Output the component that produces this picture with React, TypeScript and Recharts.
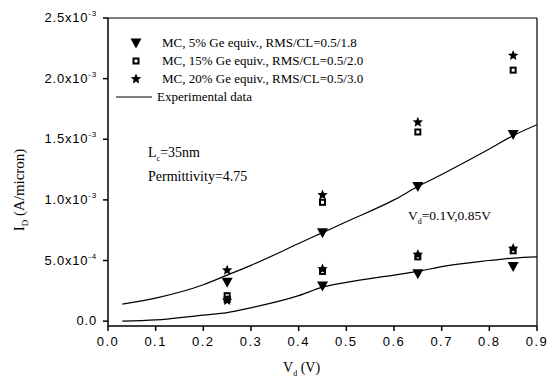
import React from 'react';
import { ComposedChart, Line, Scatter, XAxis, YAxis, Legend } from 'recharts';

// values of I_D in units of 1e-3 A/micron
const mcX = [0.25, 0.45, 0.65, 0.85];
const mc5High = [0.32, 0.73, 1.11, 1.54];
const mc15High = [0.21, 0.98, 1.56, 2.07];
const mc20High = [0.42, 1.04, 1.64, 2.19];
const mcXLow = [0.45, 0.65, 0.85];
const mc5Low = [0.29, 0.39, 0.45];
const mc15Low = [0.18, 0.41, 0.53, 0.58];
const mc20Low = [0.17, 0.43, 0.55, 0.6];

const expX = [0.03, 0.1, 0.2, 0.25, 0.3, 0.4, 0.45, 0.5, 0.6, 0.65, 0.7, 0.8, 0.85, 0.9];
const expHigh = [0.14, 0.19, 0.3, 0.38, 0.46, 0.64, 0.73, 0.82, 1.0, 1.11, 1.21, 1.42, 1.53, 1.62];
const expLow = [0.0, 0.01, 0.05, 0.07, 0.11, 0.21, 0.28, 0.32, 0.38, 0.41, 0.45, 0.5, 0.52, 0.53];

const xTicks = [0, 0.1, 0.2, 0.3, 0.4, 0.5, 0.6, 0.7, 0.8, 0.9];
const yTicks = [0, 0.5, 1.0, 1.5, 2.0, 2.5];
const yTickLabels: [string, string][] = [
  ['0.0', ''],
  ['5.0x10', '-4'],
  ['1.0x10', '-3'],
  ['1.5x10', '-3'],
  ['2.0x10', '-3'],
  ['2.5x10', '-3'],
];

const legendItems = [
  { name: 'MC, 5% Ge equiv., RMS/CL=0.5/1.8', mark: 'tri' },
  { name: 'MC, 15% Ge equiv., RMS/CL=0.5/2.0', mark: 'sq' },
  { name: 'MC, 20% Ge equiv., RMS/CL=0.5/3.0', mark: 'star' },
  { name: 'Experimental data', mark: 'line' },
];

const pts = (xs: number[], ys: number[]) => xs.map((x, i) => ({ x, y: ys[i] }));

const SANS = '"Liberation Sans", Arial, sans-serif';
const SERIF = '"Liberation Serif", "Times New Roman", serif';

const Tri = ({ cx, cy }: any) => (
  <path d={`M${cx - 5.5},${cy - 4.5} L${cx + 5.5},${cy - 4.5} L${cx},${cy + 5.5} Z`} fill="#000" />
);
const Sq = ({ cx, cy }: any) => (
  <g>
    <rect x={cx - 3.5} y={cy - 3.5} width={7} height={7} fill="#000" />
    <rect x={cx - 1.5} y={cy - 1.5} width={3} height={3} fill="#fff" />
  </g>
);
const starPath = (cx: number, cy: number, r: number) => {
  let d = '';
  for (let i = 0; i < 10; i++) {
    const rr = i % 2 === 0 ? r : r * 0.45;
    const a = -Math.PI / 2 + (i * Math.PI) / 5;
    d += (i === 0 ? 'M' : 'L') + (cx + rr * Math.cos(a)).toFixed(2) + ',' + (cy + rr * Math.sin(a)).toFixed(2);
  }
  return d + 'Z';
};
const Star = ({ cx, cy }: any) => <path d={starPath(cx, cy, 5.5)} fill="#000" />;

const YTick = ({ x, y, payload }: any) => {
  const idx = yTicks.indexOf(payload.value);
  const [base, sup] = yTickLabels[idx] || ['', ''];
  return (
    <text x={x - 4} y={y + 4} textAnchor="end" fontFamily={SANS} fontSize={13} fill="#000" letterSpacing={0.8}>
      {base}
      {sup && <tspan dy={-6} fontSize={8}>{sup}</tspan>}
    </text>
  );
};

const XTick = ({ x, y, payload }: any) => (
  <text x={x} y={y + 13} textAnchor="middle" fontFamily={SANS} fontSize={13} fill="#000" letterSpacing={1.5}>
    {payload.value.toFixed(1)}
  </text>
);

const LegendBox = () => (
  <div style={{ fontFamily: SERIF, fontSize: 13, lineHeight: '18px', color: '#000' }}>
    {legendItems.map((it) => (
      <div key={it.name} style={{ display: 'flex', alignItems: 'center' }}>
        <svg width={44} height={14}>
          {it.mark === 'tri' && <Tri cx={24} cy={7} />}
          {it.mark === 'sq' && <Sq cx={24} cy={7} />}
          {it.mark === 'star' && <Star cx={24} cy={7} />}
          {it.mark === 'line' && <line x1={4} x2={40} y1={7} y2={7} stroke="#000" strokeWidth={1.2} />}
        </svg>
        <span style={{ marginLeft: it.mark === 'line' ? 1 : 6 }}>{it.name}</span>
      </div>
    ))}
  </div>
);

export default function App() {
  return (
    <div style={{ position: 'absolute', left: 0, top: 0, width: 549, height: 385, background: '#fff' }}>
      <ComposedChart width={549} height={385} margin={{ top: 18, right: 12, bottom: 0, left: 0 }}>
        <XAxis
          type="number"
          dataKey="x"
          domain={[0, 0.9]}
          ticks={xTicks}
          tick={<XTick />}
          height={59}
          stroke="#000"
          strokeWidth={1.5}
          tickSize={5}
          allowDataOverflow
        />
        <XAxis xAxisId="t" orientation="top" type="number" dataKey="x" domain={[0, 0.9]} ticks={xTicks} mirror tick={() => <g />} stroke="#000" strokeWidth={1.2} tickSize={4} />
        <YAxis
          type="number"
          domain={[-0.04, 2.5]}
          ticks={yTicks}
          tick={<YTick />}
          width={108}
          stroke="#000"
          strokeWidth={1.5}
          tickSize={5}
          allowDataOverflow
        />
        <YAxis yAxisId="r" orientation="right" type="number" domain={[-0.04, 2.5]} ticks={yTicks} mirror tick={() => <g />} stroke="#000" strokeWidth={1.2} tickSize={4} />
        <Legend
          verticalAlign="middle"
          align="center"
          layout="horizontal"
          wrapperStyle={{ top: 34, left: 112, width: 330, height: 74 }}
          content={<LegendBox />}
        />
        <Line data={pts(expX, expHigh)} dataKey="y" type="monotone" stroke="#000" strokeWidth={1.2} dot={false} isAnimationActive={false} legendType="none" />
        <Line data={pts(expX, expLow)} dataKey="y" type="monotone" stroke="#000" strokeWidth={1.2} dot={false} isAnimationActive={false} legendType="none" />
        <Scatter data={pts(mcX, mc5High)} dataKey="y" shape={<Tri />} isAnimationActive={false} />
        <Scatter data={pts(mcXLow, mc5Low)} dataKey="y" shape={<Tri />} isAnimationActive={false} />
        <Scatter data={pts(mcX, mc15High)} dataKey="y" shape={<Sq />} isAnimationActive={false} />
        <Scatter data={pts(mcX, mc15Low)} dataKey="y" shape={<Sq />} isAnimationActive={false} />
        <Scatter data={pts(mcX, mc20High)} dataKey="y" shape={<Star />} isAnimationActive={false} />
        <Scatter data={pts(mcX, mc20Low)} dataKey="y" shape={<Star />} isAnimationActive={false} />
      </ComposedChart>
      <div style={{ position: 'absolute', left: 148, top: 144, fontFamily: SERIF, fontSize: 14, lineHeight: '18px', color: '#000' }}>
        <div>L<sub style={{ fontSize: 8 }}>c</sub>=35nm</div>
        <div>Permittivity=4.75</div>
      </div>
      <div style={{ position: 'absolute', left: 408, top: 208, fontFamily: SERIF, fontSize: 13.5, color: '#000' }}>
        V<sub style={{ fontSize: 8 }}>d</sub>=0.1V,0.85V
      </div>
      <div style={{ position: 'absolute', left: 283, top: 360, fontFamily: SERIF, fontSize: 14, color: '#000' }}>
        V<sub style={{ fontSize: 8 }}>d</sub> (V)
      </div>
      <div
        style={{
          position: 'absolute',
          left: 20,
          top: 190,
          transform: 'translate(-50%, -50%) rotate(-90deg)',
          fontFamily: SERIF,
          fontSize: 15,
          whiteSpace: 'nowrap',
          color: '#000',
        }}
      >
        I<sub style={{ fontSize: 9 }}>D</sub> (A/micron)
      </div>
    </div>
  );
}
